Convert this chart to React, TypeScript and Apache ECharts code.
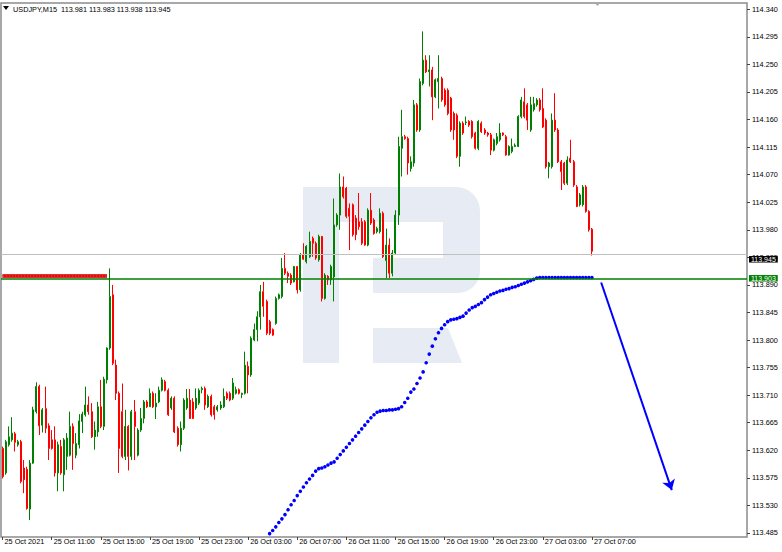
import React, { useEffect, useRef } from 'react';
import * as echarts from 'echarts';

const symbolName = 'USDJPY,M15';
const xTickLabels = ['25 Oct 2021', '25 Oct 11:00', '25 Oct 15:00', '25 Oct 19:00', '25 Oct 23:00', '26 Oct 03:00', '26 Oct 07:00', '26 Oct 11:00', '26 Oct 15:00', '26 Oct 19:00', '26 Oct 23:00', '27 Oct 03:00', '27 Oct 07:00'];
const barsPerLabel = 16;
const totalSlots = 243;
const yTicks = [113.485, 113.530, 113.575, 113.620, 113.665, 113.710, 113.755, 113.800, 113.845, 113.890, 113.935, 113.980, 114.025, 114.070, 114.115, 114.160, 114.205, 114.250, 114.295, 114.340];
const yMin = 113.4784;
const yMax = 114.3503;

const openPrices = [
  113.623, 113.583, 113.629, 113.637, 113.647, 113.629, 113.634, 113.591, 113.589, 113.524,
  113.599, 113.683, 113.724, 113.661, 113.688, 113.660, 113.637, 113.637, 113.583, 113.626,
  113.580, 113.610, 113.612, 113.659, 113.612, 113.629, 113.667, 113.678, 113.694, 113.683,
  113.642, 113.650, 113.691, 113.659, 113.735, 113.787, 113.874, 113.759, 113.713, 113.683,
  113.610, 113.659, 113.610, 113.683, 113.612, 113.653, 113.672, 113.699, 113.691, 113.713,
  113.691, 113.699, 113.718, 113.732, 113.718, 113.689, 113.705, 113.656, 113.629, 113.656,
  113.689, 113.702, 113.699, 113.689, 113.697, 113.719, 113.721, 113.691, 113.708, 113.691,
  113.686, 113.689, 113.691, 113.713, 113.713, 113.705, 113.713, 113.719, 113.711, 113.713,
  113.757, 113.743, 113.800, 113.817, 113.838, 113.879, 113.863, 113.830, 113.817, 113.827,
  113.868, 113.871, 113.917, 113.909, 113.906, 113.895, 113.920, 113.882, 113.939, 113.928,
  113.936, 113.966, 113.958, 113.931, 113.969, 113.868, 113.904, 113.898, 113.903, 113.988,
  114.004, 114.050, 114.048, 114.015, 114.021, 113.999, 113.993, 113.993, 113.993, 113.955,
  114.012, 113.996, 113.977, 113.977, 114.007, 113.930, 113.955, 113.909, 113.942, 114.004,
  114.113, 114.132, 114.129, 114.080, 114.089, 114.184, 114.143, 114.219, 114.257, 114.238,
  114.241, 114.197, 114.222, 114.227, 114.208, 114.208, 114.195, 114.170, 114.167, 114.100,
  114.154, 114.155, 114.157, 114.157, 114.138, 114.113, 114.154, 114.143, 114.138, 114.135,
  114.110, 114.121, 114.127, 114.138, 114.132, 114.102, 114.108, 114.116, 114.116, 114.165,
  114.189, 114.184, 114.143, 114.176, 114.184, 114.192, 114.178, 114.159, 114.083, 114.083,
  114.159, 114.143, 114.091, 114.089, 114.056, 114.097, 114.091, 114.050, 114.021, 114.021,
  114.050, 114.010, 113.981,
];
const closePrices = [
  113.577, 113.634, 113.642, 113.648, 113.633, 113.634, 113.569, 113.572, 113.525, 113.599,
  113.686, 113.724, 113.660, 113.686, 113.656, 113.623, 113.623, 113.583, 113.629, 113.583,
  113.637, 113.640, 113.659, 113.631, 113.631, 113.668, 113.679, 113.694, 113.683, 113.642,
  113.653, 113.691, 113.659, 113.736, 113.787, 113.871, 113.762, 113.713, 113.623, 113.610,
  113.659, 113.610, 113.683, 113.659, 113.653, 113.672, 113.699, 113.691, 113.713, 113.691,
  113.697, 113.718, 113.735, 113.718, 113.678, 113.705, 113.650, 113.629, 113.656, 113.702,
  113.705, 113.672, 113.672, 113.705, 113.718, 113.721, 113.694, 113.708, 113.678, 113.678,
  113.691, 113.694, 113.708, 113.705, 113.702, 113.730, 113.719, 113.713, 113.713, 113.759,
  113.743, 113.803, 113.817, 113.838, 113.879, 113.855, 113.811, 113.811, 113.808, 113.868,
  113.874, 113.917, 113.909, 113.904, 113.893, 113.920, 113.882, 113.939, 113.932, 113.953,
  113.961, 113.958, 113.934, 113.969, 113.868, 113.906, 113.898, 113.920, 113.988, 114.004,
  114.050, 114.034, 114.002, 114.002, 113.972, 113.972, 113.985, 113.958, 113.955, 114.012,
  113.991, 113.974, 113.982, 114.007, 113.936, 113.955, 113.909, 113.942, 114.004, 114.116,
  114.132, 114.129, 114.089, 114.091, 114.184, 114.143, 114.222, 114.257, 114.238, 114.241,
  114.197, 114.225, 114.227, 114.192, 114.184, 114.170, 114.143, 114.143, 114.100, 114.154,
  114.138, 114.156, 114.151, 114.132, 114.113, 114.157, 114.140, 114.138, 114.135, 114.110,
  114.127, 114.132, 114.138, 114.135, 114.102, 114.116, 114.116, 114.118, 114.165, 114.192,
  114.165, 114.159, 114.184, 114.186, 114.192, 114.176, 114.148, 114.083, 114.089, 114.159,
  114.143, 114.091, 114.075, 114.056, 114.094, 114.091, 114.053, 114.018, 114.037, 114.050,
  114.010, 113.980, 113.945,
];
const lowPrices = [
  113.574, 113.580, 113.626, 113.634, 113.618, 113.626, 113.566, 113.550, 113.523, 113.506,
  113.598, 113.680, 113.645, 113.649, 113.648, 113.604, 113.621, 113.577, 113.553, 113.580,
  113.553, 113.588, 113.610, 113.588, 113.607, 113.623, 113.648, 113.675, 113.678, 113.640,
  113.621, 113.642, 113.656, 113.653, 113.729, 113.784, 113.759, 113.702, 113.583, 113.607,
  113.604, 113.587, 113.604, 113.604, 113.610, 113.650, 113.664, 113.689, 113.691, 113.689,
  113.671, 113.697, 113.716, 113.716, 113.676, 113.686, 113.648, 113.626, 113.618, 113.653,
  113.686, 113.671, 113.671, 113.686, 113.694, 113.713, 113.686, 113.689, 113.675, 113.670,
  113.683, 113.686, 113.689, 113.702, 113.700, 113.702, 113.711, 113.711, 113.705, 113.711,
  113.713, 113.740, 113.798, 113.798, 113.817, 113.838, 113.808, 113.808, 113.807, 113.825,
  113.866, 113.868, 113.906, 113.893, 113.890, 113.894, 113.876, 113.879, 113.931, 113.925,
  113.934, 113.936, 113.931, 113.928, 113.863, 113.866, 113.890, 113.890, 113.863, 113.985,
  113.980, 114.031, 113.999, 113.947, 113.969, 113.963, 113.980, 113.955, 113.954, 113.953,
  113.988, 113.972, 113.974, 113.974, 113.934, 113.901, 113.901, 113.904, 113.939, 113.988,
  114.067, 114.127, 114.070, 114.075, 114.083, 114.140, 114.140, 114.216, 114.236, 114.214,
  114.159, 114.195, 114.178, 114.189, 114.181, 114.167, 114.140, 114.127, 114.097, 114.083,
  114.135, 114.151, 114.148, 114.129, 114.111, 114.110, 114.138, 114.135, 114.132, 114.102,
  114.108, 114.118, 114.124, 114.133, 114.101, 114.101, 114.105, 114.115, 114.115, 114.162,
  114.162, 114.143, 114.140, 114.173, 114.181, 114.173, 114.146, 114.080, 114.064, 114.080,
  114.140, 114.089, 114.045, 114.053, 114.053, 114.089, 114.050, 114.017, 114.018, 114.018,
  114.008, 113.977, 113.938,
];
const highPrices = [
  113.626, 113.637, 113.659, 113.674, 113.650, 113.637, 113.637, 113.604, 113.593, 113.604,
  113.691, 113.731, 113.727, 113.689, 113.724, 113.664, 113.653, 113.659, 113.634, 113.637,
  113.640, 113.648, 113.683, 113.664, 113.648, 113.679, 113.683, 113.724, 113.708, 113.697,
  113.667, 113.699, 113.735, 113.740, 113.788, 113.917, 113.890, 113.768, 113.716, 113.729,
  113.686, 113.661, 113.686, 113.702, 113.656, 113.689, 113.702, 113.702, 113.721, 113.716,
  113.713, 113.724, 113.739, 113.735, 113.721, 113.708, 113.708, 113.659, 113.667, 113.705,
  113.720, 113.720, 113.705, 113.721, 113.721, 113.724, 113.724, 113.711, 113.711, 113.694,
  113.694, 113.700, 113.721, 113.716, 113.716, 113.738, 113.724, 113.721, 113.714, 113.781,
  113.765, 113.806, 113.827, 113.847, 113.890, 113.895, 113.866, 113.833, 113.819, 113.871,
  113.876, 113.934, 113.942, 113.912, 113.909, 113.921, 113.921, 113.942, 113.958, 113.955,
  113.977, 113.969, 113.961, 113.972, 113.970, 113.909, 113.906, 113.923, 114.031, 114.007,
  114.072, 114.067, 114.050, 114.023, 114.023, 114.004, 114.040, 113.999, 113.996, 114.015,
  114.040, 113.999, 113.985, 114.015, 114.010, 113.982, 113.966, 113.947, 114.012, 114.132,
  114.176, 114.135, 114.132, 114.100, 114.192, 114.187, 114.227, 114.304, 114.265, 114.265,
  114.246, 114.227, 114.265, 114.230, 114.211, 114.211, 114.197, 114.173, 114.170, 114.157,
  114.157, 114.165, 114.159, 114.159, 114.140, 114.159, 114.157, 114.146, 114.140, 114.138,
  114.129, 114.138, 114.154, 114.139, 114.135, 114.118, 114.129, 114.121, 114.167, 114.197,
  114.211, 114.187, 114.197, 114.197, 114.195, 114.195, 114.211, 114.162, 114.091, 114.170,
  114.203, 114.146, 114.094, 114.091, 114.100, 114.127, 114.094, 114.053, 114.040, 114.053,
  114.053, 114.012, 113.983,
];

// blue dotted projection curve, one dot per bar starting at bar 87
const dotStart = 87;
const dotValues = [
  113.484, 113.489, 113.495, 113.502, 113.508, 113.515, 113.523, 113.531, 113.538, 113.546,
  113.553, 113.560, 113.567, 113.573, 113.579, 113.586, 113.590, 113.591, 113.593, 113.596,
  113.599, 113.601, 113.607, 113.613, 113.619, 113.625, 113.631, 113.637, 113.643, 113.649,
  113.655, 113.661, 113.667, 113.673, 113.678, 113.682, 113.684, 113.685, 113.685, 113.686,
  113.686, 113.687, 113.688, 113.691, 113.698, 113.705, 113.715, 113.720, 113.729, 113.738,
  113.748, 113.763, 113.777, 113.790, 113.802, 113.812, 113.819, 113.825, 113.830, 113.833,
  113.834, 113.835, 113.837, 113.839, 113.844, 113.849, 113.853, 113.855, 113.858, 113.861,
  113.866, 113.870, 113.874, 113.876, 113.878, 113.880, 113.881, 113.883, 113.884, 113.886,
  113.887, 113.889, 113.891, 113.893, 113.895, 113.897, 113.899, 113.901, 113.902, 113.902,
  113.902, 113.902, 113.902, 113.902, 113.902, 113.902, 113.902, 113.902, 113.902, 113.902,
  113.902, 113.902, 113.902, 113.902, 113.902, 113.902,
];

const bidPrice = 113.945;
const levelPrice = 113.903;
const redLevel = { value: 113.905, from: 0, to: 34 };
const arrowFrom = { bar: 195, value: 113.894 };
const arrowTo = { bar: 218, value: 113.555 };

const FONT = 'Liberation Sans, Arial, sans-serif';
const WM = '#e7ecf4';

function makeCategories(): string[] {
  const out: string[] = [];
  let day = 25;
  let minutes = 7 * 60;
  for (let i = 0; i < totalSlots; i++) {
    const h = Math.floor(minutes / 60);
    const m = minutes % 60;
    out.push(`${day} Oct ${String(h).padStart(2, '0')}:${String(m).padStart(2, '0')}`);
    minutes += 15;
    if (minutes >= 24 * 60) {
      minutes -= 24 * 60;
      day += 1;
    }
  }
  return out;
}

export default function App() {
  const ref = useRef<HTMLDivElement>(null);

  useEffect(() => {
    document.body.style.margin = '0';
    if (!ref.current) return;
    const chart = echarts.init(ref.current, undefined, { renderer: 'svg' });
    const categories = makeCategories();
    const candles = openPrices.map((o, i) => [o, closePrices[i], lowPrices[i], highPrices[i]]);
    const dots: (number | null)[] = categories.map((_, i) => {
      const k = i - dotStart;
      return k >= 0 && k < dotValues.length ? dotValues[k] : null;
    });
    const lastIdx = openPrices.length - 1;
    const tickFn = (index: number) => index % barsPerLabel === 0 && index / barsPerLabel < xTickLabels.length;
    const title = `${symbolName}\u00a0 ${openPrices[lastIdx].toFixed(3)} ${highPrices[lastIdx].toFixed(3)} ${lowPrices[lastIdx].toFixed(3)} ${closePrices[lastIdx].toFixed(3)}`;

    chart.setOption({
      animation: false,
      backgroundColor: '#ffffff',
      grid: {
        left: 1,
        right: 35,
        top: 3,
        bottom: 15,
        show: true,
        borderColor: '#8c8c8c',
        borderWidth: 1.5,
        backgroundColor: 'transparent',
      },
      xAxis: {
        type: 'category',
        data: categories,
        boundaryGap: true,
        axisLine: { show: false },
        axisTick: {
          show: true,
          alignWithLabel: true,
          interval: tickFn,
          length: 3,
          lineStyle: { color: '#444' },
        },
        axisLabel: {
          interval: tickFn,
          formatter: (_v: string, i: number) => xTickLabels[i / barsPerLabel] ?? '',
          align: 'left',
          margin: 1,
          padding: [0, 0, 0, 2],
          fontSize: 7.3,
          fontFamily: FONT,
          color: '#000',
        },
        splitLine: { show: false },
      },
      yAxis: {
        type: 'value',
        position: 'right',
        min: yMin,
        max: yMax,
        splitLine: { show: false },
        axisLine: { show: false },
        axisTick: {
          show: true,
          customValues: yTicks,
          length: 3,
          lineStyle: { color: '#444' },
        },
        axisLabel: {
          customValues: yTicks,
          formatter: (v: number) => v.toFixed(3),
          margin: 5,
          fontSize: 7.3,
          lineHeight: 7,
          fontFamily: FONT,
          color: '#000',
        },
      },
      graphic: [
        { type: 'rect', z: 0, silent: true, shape: { x: 303, y: 187, width: 36, height: 176 }, style: { fill: WM } },
        { type: 'rect', z: 0, silent: true, shape: { x: 339, y: 187, width: 141, height: 106, r: [0, 24, 22, 0] }, style: { fill: WM } },
        { type: 'rect', z: 0, silent: true, shape: { x: 339, y: 222, width: 104, height: 36 }, style: { fill: '#ffffff' } },
        { type: 'rect', z: 0, silent: true, shape: { x: 339, y: 258, width: 34, height: 35 }, style: { fill: '#ffffff' } },
        { type: 'polygon', z: 0, silent: true, shape: { points: [[373, 328], [448, 328], [462, 363], [373, 363]] }, style: { fill: WM } },
        { type: 'polygon', z: 100, silent: true, shape: { points: [[3, 6], [9, 6], [6, 10]] }, style: { fill: '#000' } },
        { type: 'text', z: 100, silent: true, x: 13, y: 9, style: { text: title, fill: '#000', font: `7.3px ${FONT}`, verticalAlign: 'middle', align: 'left' } },
        { type: 'polygon', z: 100, silent: true, shape: { points: [[594, 2], [601, 2], [597.5, 6]] }, style: { fill: '#a8a8a8' } },
      ],
      series: [
        {
          type: 'candlestick',
          data: candles,
          barWidth: 1.5,
          itemStyle: {
            color: '#008000',
            color0: '#ff0000',
            borderColor: '#008000',
            borderColor0: '#ff0000',
            borderWidth: 1,
          },
          markLine: {
            silent: true,
            animation: false,
            symbol: 'none',
            data: [
              {
                yAxis: bidPrice,
                lineStyle: { color: '#c0c0c0', width: 1, type: 'solid' },
                label: {
                  show: true,
                  position: 'end',
                  distance: 2,
                  offset: [0, 5],
                  formatter: bidPrice.toFixed(3),
                  color: '#fff',
                  backgroundColor: '#000',
                  padding: [0, 2],
                  lineHeight: 6.5,
                  fontSize: 7,
                  fontFamily: FONT,
                },
              },
              {
                yAxis: levelPrice,
                lineStyle: { color: '#008000', width: 1.6, type: 'solid' },
                label: {
                  show: true,
                  position: 'end',
                  distance: 2,
                  offset: [0, -0.5],
                  formatter: levelPrice.toFixed(3),
                  color: '#fff',
                  backgroundColor: '#008000',
                  padding: [0, 2],
                  lineHeight: 6.5,
                  fontSize: 7,
                  fontFamily: FONT,
                },
              },
              [
                {
                  coord: [redLevel.from, redLevel.value],
                  lineStyle: { color: '#b00000', width: 3.5, type: 'solid' },
                  label: { show: false },
                },
                { coord: [redLevel.to, redLevel.value] },
              ],
              [
                {
                  coord: [redLevel.from, redLevel.value],
                  lineStyle: { color: '#ff2020', width: 3.5, type: [2, 1] },
                  label: { show: false },
                },
                { coord: [redLevel.to, redLevel.value] },
              ],
            ],
          },
        },
        {
          type: 'line',
          data: dots,
          symbol: 'circle',
          symbolSize: 3.6,
          showSymbol: true,
          showAllSymbol: true,
          connectNulls: false,
          lineStyle: { opacity: 0 },
          itemStyle: { color: '#0000ff' },
          z: 3,
          markLine: {
            silent: true,
            animation: false,
            symbol: ['none', 'arrow'],
            symbolSize: 10,
            label: { show: false },
            lineStyle: { color: '#0000ff', width: 2, type: 'solid' },
            data: [[{ coord: [arrowFrom.bar, arrowFrom.value] }, { coord: [arrowTo.bar, arrowTo.value] }]],
          },
        },
      ],
    });
    return () => chart.dispose();
  }, []);

  return <div ref={ref} style={{ width: 782, height: 552 }} />;
}
